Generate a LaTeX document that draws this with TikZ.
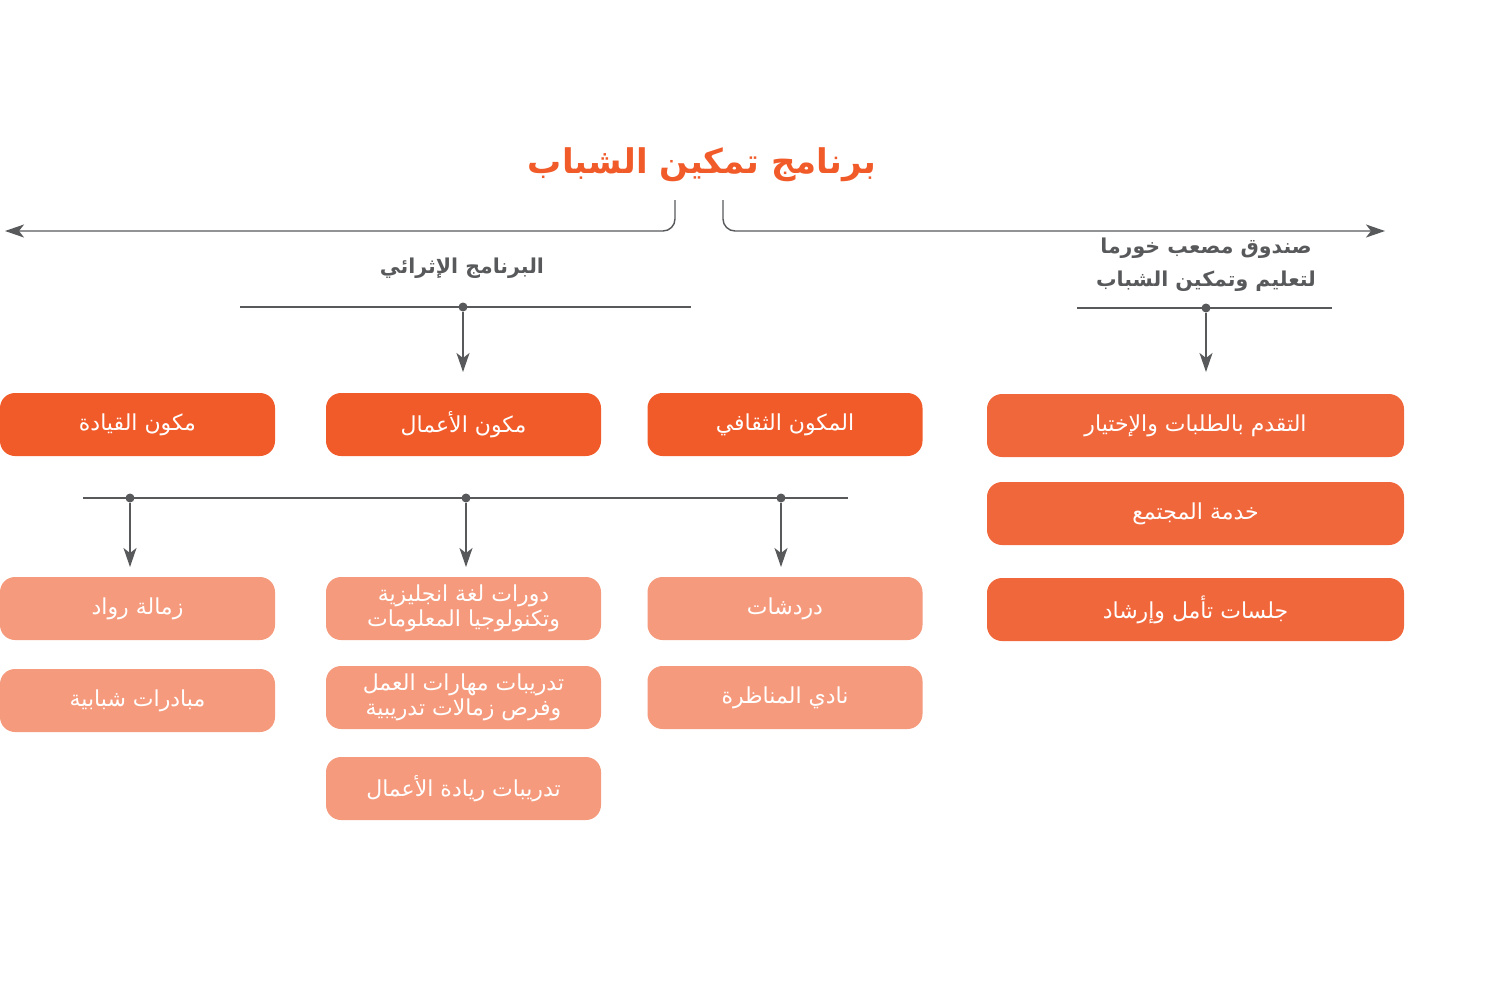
\documentclass[tikz,border=0pt]{standalone}
\usepackage{fontspec}
\usetikzlibrary{arrows.meta,positioning}
\TeXXeTstate=1
\newfontfamily\arabicfont[Script=Arabic]{DejaVu Sans}
\newcommand{\artxt}[1]{{\arabicfont\beginR #1\endR}}
\definecolor{dkorange}{HTML}{F15A29}
\definecolor{mdorange}{HTML}{F1673C}
\definecolor{ltorange}{HTML}{F59A7C}
\definecolor{linegray}{HTML}{58595B}

\tikzset{
  box/.style={rounded corners=15pt, minimum width=275pt, minimum height=63pt,
    inner sep=0pt, text=white, align=center, font=\fontsize{22}{25}\selectfont},
  mainbox/.style={box, fill=dkorange},
  sidebox/.style={box, fill=mdorange, minimum width=417pt},
  subbox/.style={box, fill=ltorange},
  link/.style={draw=linegray, line width=1.4pt},
  arrow/.style={link, -{Stealth[length=19pt,width=13pt,inset=5pt]}},
  dot/.style={circle, fill=linegray, inner sep=0pt, minimum size=9pt},
  heading/.style={text=linegray, align=center, font=\fontsize{20.5}{33}\selectfont\bfseries}
}

\begin{document}
\begin{tikzpicture}[x=1pt,y=-1pt]
      \useasboundingbox (0,0) rectangle (1502,1002);
      % Title
      \node[text=dkorange, font=\fontsize{34}{40}\selectfont\bfseries] (title) at (702,165) {\artxt{برنامج تمكين الشباب}};
      % Bracket under the title
      \coordinate (bl) at (675,200);
      \coordinate (br) at (723,200);
      \coordinate (el) at (5,231);
      \coordinate (er) at (1385,231);
      \draw[arrow, rounded corners=12pt] (bl) |- (el);
      \draw[arrow, rounded corners=12pt] (br) |- (er);
      % Headings
      \node[heading] (enrich) at (462,268) {\artxt{البرنامج الإثرائي}};
      \node[heading] (fund) at (1206,265) {\artxt{صندوق مصعب خورما}\\\artxt{لتعليم وتمكين الشباب}};
      % Lines under the headings
      \coordinate (e1) at (240,307);
      \coordinate (e2) at (691,307);
      \node[dot] (de) at (463,307) {};
      \coordinate (ae) at (463,372);
      \draw[link] (e1) -- (e2);
      \draw[arrow] (de) -- (ae);
      \coordinate (f1) at (1077,308);
      \coordinate (f2) at (1332,308);
      \node[dot] (df) at (1206,308) {};
      \coordinate (af) at (1206,372);
      \draw[link] (f1) -- (f2);
      \draw[arrow] (df) -- (af);
      % Components
      \node[mainbox] (lead) at (137.5,424.5) {\artxt{مكون القيادة}};
      \node[mainbox] (biz) at (463.5,424.5) {\artxt{مكون الأعمال}};
      \node[mainbox] (cult) at (785,424.5) {\artxt{المكون الثقافي}};
      % Fund steps
      \node[sidebox] (apply) at (1195.5,425.5) {\artxt{التقدم بالطلبات والإختيار}};
      \node[sidebox] (serve) at (1195.5,513.5) {\artxt{خدمة المجتمع}};
      \node[sidebox] (mentor) at (1195.5,609.5) {\artxt{جلسات تأمل وإرشاد}};
      % Line under the components
      \coordinate (c1) at (83,498);
      \coordinate (c2) at (848,498);
      \draw[link] (c1) -- (c2);
      \node[dot] (dl) at (130,498) {};
      \node[dot] (db) at (466,498) {};
      \node[dot] (dc) at (781,498) {};
      \coordinate (al) at (130,567);
      \coordinate (ab) at (466,567);
      \coordinate (ac) at (781,567);
      \draw[arrow] (dl) -- (al);
      \draw[arrow] (db) -- (ab);
      \draw[arrow] (dc) -- (ac);
      % Activities
      \node[subbox] (fellow) at (137.5,608.5) {\artxt{زمالة رواد}};
      \node[subbox] (youth) at (137.5,700.5) {\artxt{مبادرات شبابية}};
      \node[subbox] (lang) at (463.5,608.5) {\artxt{دورات لغة انجليزية}\\\artxt{وتكنولوجيا المعلومات}};
      \node[subbox] (skills) at (463.5,697.5) {\artxt{تدريبات مهارات العمل}\\\artxt{وفرص زمالات تدريبية}};
      \node[subbox] (entre) at (463.5,788.5) {\artxt{تدريبات ريادة الأعمال}};
      \node[subbox] (chat) at (785,608.5) {\artxt{دردشات}};
      \node[subbox] (debate) at (785,697.5) {\artxt{نادي المناظرة}};
\end{tikzpicture}
\end{document}
